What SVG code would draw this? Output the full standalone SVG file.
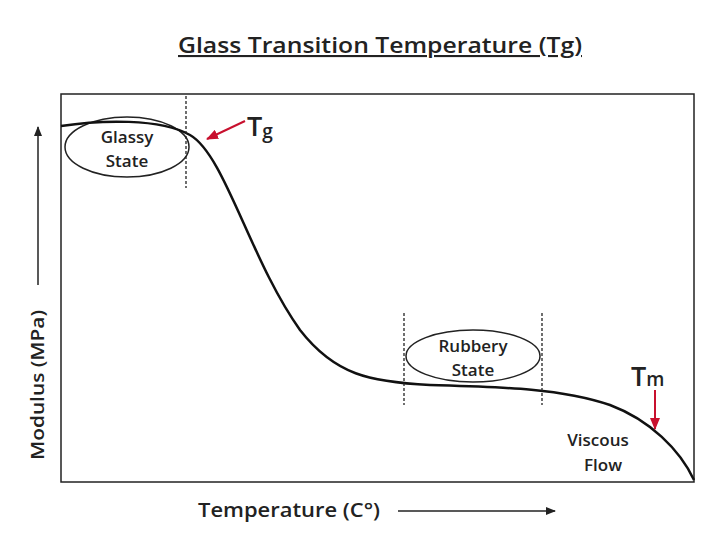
<svg xmlns="http://www.w3.org/2000/svg" width="714" height="544" viewBox="0 0 714 544">
<style>
text{font-family:"Open Sans","Noto Sans",sans-serif;fill:#222;font-weight:600}
.lbl{font-size:17px;text-anchor:middle}
.dash{stroke:#222;stroke-width:1.3;stroke-dasharray:3,2;fill:none}
.ell{stroke:#222;stroke-width:1.5;fill:#fff}
</style>
<defs>
<marker id="ah" markerWidth="10" markerHeight="8" refX="9" refY="4" orient="auto" markerUnits="userSpaceOnUse"><path d="M0,0L10,4L0,8z" fill="#222"/></marker>
<marker id="rh" markerWidth="12" markerHeight="10" refX="11" refY="5" orient="auto" markerUnits="userSpaceOnUse"><path d="M0,0L12,5L0,10z" fill="#c8102e"/></marker>
</defs>
<rect width="714" height="544" fill="#fff"/>
<text x="380" y="53" font-size="21" text-anchor="middle" text-decoration="underline" textLength="404" lengthAdjust="spacingAndGlyphs">Glass Transition Temperature (Tg)</text>
<rect x="61" y="94" width="633" height="388" fill="none" stroke="#222" stroke-width="1.5"/>
<g id="glassy"><ellipse class="ell" cx="127" cy="147" rx="62" ry="30"/><text class="lbl" x="127" y="143">Glassy</text><text class="lbl" x="127" y="167">State</text></g>
<g id="rubbery"><ellipse class="ell" cx="473" cy="356" rx="67" ry="26"/><text class="lbl" x="473" y="352">Rubbery</text><text class="lbl" x="473" y="376">State</text></g>
<g id="connectors">
<path d="M61,126 C100,120 160,118 190,135 C225,155 250,260 300,330 C335,375 370,382 430,385 C500,387 560,388 610,405 C650,420 680,450 694,480" fill="none" stroke="#111" stroke-width="2.5"/>
<line class="dash" x1="186" y1="96" x2="186" y2="188"/>
<line class="dash" x1="404" y1="313" x2="404" y2="405"/>
<line class="dash" x1="542" y1="313" x2="542" y2="405"/>
<line x1="245" y1="121" x2="207" y2="139" stroke="#c8102e" stroke-width="2" marker-end="url(#rh)"/>
<line x1="655" y1="390" x2="655" y2="429" stroke="#c8102e" stroke-width="2" marker-end="url(#rh)"/>
<line x1="38" y1="285" x2="38" y2="127" stroke="#222" stroke-width="1.5" marker-end="url(#ah)"/>
<line x1="398" y1="511" x2="555" y2="511" stroke="#222" stroke-width="1.5" marker-end="url(#ah)"/>
</g>
<text x="247" y="136" font-size="27" font-weight="400">T<tspan font-size="19" dy="2">g</tspan></text>
<text x="631" y="386" font-size="27" font-weight="400">T<tspan font-size="19">m</tspan></text>
<text class="lbl" x="598" y="446">Viscous</text>
<text class="lbl" x="603" y="471">Flow</text>
<text x="289" y="517" font-size="19" text-anchor="middle" textLength="182" lengthAdjust="spacingAndGlyphs">Temperature (C°)</text>
<text transform="translate(44,385) rotate(-90)" font-size="18" text-anchor="middle" textLength="150" lengthAdjust="spacingAndGlyphs">Modulus (MPa)</text>
</svg>
